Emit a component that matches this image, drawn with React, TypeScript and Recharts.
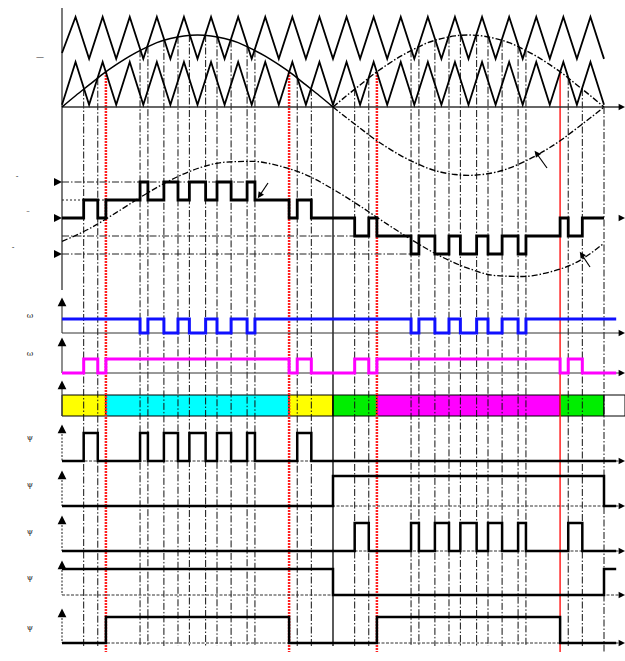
import {
  ComposedChart,
  Line,
  XAxis,
  YAxis,
  ReferenceLine,
  ReferenceArea,
  ReferenceDot,
} from "recharts";

// Canvas and horizontal scale: t is measured in carrier periods (0..20).
const W = 625;
const H = 661;
const ORIGIN_PX = 62;
const PX_PER_T = 27.1;
const T_MIN = -ORIGIN_PX / PX_PER_T;
const T_MAX = (W - ORIGIN_PX) / PX_PER_T;
const tAt = (px: number) => (px - ORIGIN_PX) / PX_PER_T;

// ---- data ----
const carrierT = [
  0, 0.5, 1, 1.5, 2, 2.5, 3, 3.5, 4, 4.5, 5, 5.5, 6, 6.5, 7, 7.5, 8, 8.5, 9, 9.5, 10,
  10.5, 11, 11.5, 12, 12.5, 13, 13.5, 14, 14.5, 15, 15.5, 16, 16.5, 17, 17.5, 18, 18.5, 19, 19.5, 20,
];
const carrierLower = [
  0.05, 1, 0.05, 1, 0.05, 1, 0.05, 1, 0.05, 1, 0.05, 1, 0.05, 1, 0.05, 1, 0.05, 1, 0.05, 1, 0.05,
  1, 0.05, 1, 0.05, 1, 0.05, 1, 0.05, 1, 0.05, 1, 0.05, 1, 0.05, 1, 0.05, 1, 0.05, 1, 0.05,
];
const carrierUpper = [
  1.2, 2, 1.07, 2, 1.07, 2, 1.07, 2, 1.07, 2, 1.07, 2, 1.07, 2, 1.07, 2, 1.07, 2, 1.07, 2, 1.07,
  2, 1.07, 2, 1.07, 2, 1.07, 2, 1.07, 2, 1.07, 2, 1.07, 2, 1.07, 2, 1.07, 2, 1.07, 2, 1.07,
];

// reference sine, sampled every half period
const sineT1 = [0, 0.5, 1, 1.5, 2, 2.5, 3, 3.5, 4, 4.5, 5, 5.5, 6, 6.5, 7, 7.5, 8, 8.5, 9, 9.5, 10];
const sineT2 = [10, 10.5, 11, 11.5, 12, 12.5, 13, 13.5, 14, 14.5, 15, 15.5, 16, 16.5, 17, 17.5, 18, 18.5, 19, 19.5, 20];
const sineHump = [0, 0.25, 0.49, 0.73, 0.94, 1.13, 1.29, 1.43, 1.52, 1.58, 1.6, 1.58, 1.52, 1.43, 1.29, 1.13, 0.94, 0.73, 0.49, 0.25, 0];
const sineNeg = [0, -0.24, -0.47, -0.7, -0.9, -1.08, -1.23, -1.36, -1.45, -1.5, -1.52, -1.5, -1.45, -1.36, -1.23, -1.08, -0.9, -0.7, -0.47, -0.24, 0];

// lagging sine in the output-voltage panel (levels)
const voltSineT = [0, 1, 2, 3, 4, 5, 6, 7, 8, 9, 10, 11, 12, 13, 14, 15, 16, 17, 18, 19, 20];
const voltSine = [-1.3, -0.6, 0.3, 1.25, 2.1, 2.75, 3.1, 3.15, 2.9, 2.4, 1.6, 0.66, -0.34, -1.3, -2.15, -2.8, -3.2, -3.25, -3.0, -2.45, -1.4];

// switching instants
const edges = [
  0, 0.8, 1.32, 1.62, 2.88, 3.17, 3.76, 4.28, 4.7, 5.3, 5.72, 6.24, 6.83, 7.12, 8.38, 8.68, 9.2,
  10, 10.8, 11.32, 11.62, 12.88, 13.17, 13.76, 14.28, 14.7, 15.3, 15.72, 16.24, 16.83, 17.12, 18.38, 18.68, 19.2,
  20, 20.45,
];
const vout = [0, 1, 0, 1, 2, 1, 2, 1, 2, 1, 2, 1, 2, 1, 0, 1, 0, 0, -1, 0, -1, -2, -1, -2, -1, -2, -1, -2, -1, -2, -1, 0, -1, 0, 0];
const blueSig = [1, 1, 1, 1, 0, 1, 0, 1, 0, 1, 0, 1, 0, 1, 1, 1, 1, 1, 1, 1, 1, 0, 1, 0, 1, 0, 1, 0, 1, 0, 1, 1, 1, 1, 1, 1];
const magentaSig = [0, 1, 0, 1, 1, 1, 1, 1, 1, 1, 1, 1, 1, 1, 0, 1, 0, 0, 1, 0, 1, 1, 1, 1, 1, 1, 1, 1, 1, 1, 1, 0, 1, 0, 0, 0];
const gate1 = [0, 1, 0, 0, 1, 0, 1, 0, 1, 0, 1, 0, 1, 0, 0, 1, 0, 0, 0, 0, 0, 0, 0, 0, 0, 0, 0, 0, 0, 0, 0, 0, 0, 0, 0, 0];
const gate2 = [0, 0, 0, 0, 0, 0, 0, 0, 0, 0, 0, 0, 0, 0, 0, 0, 0, 1, 1, 1, 1, 1, 1, 1, 1, 1, 1, 1, 1, 1, 1, 1, 1, 1, 0, 0];
const gate3 = [0, 0, 0, 0, 0, 0, 0, 0, 0, 0, 0, 0, 0, 0, 0, 0, 0, 0, 1, 0, 0, 1, 0, 1, 0, 1, 0, 1, 0, 1, 0, 0, 1, 0, 0, 0];
const gate4 = [1, 1, 1, 1, 1, 1, 1, 1, 1, 1, 1, 1, 1, 1, 1, 1, 1, 0, 0, 0, 0, 0, 0, 0, 0, 0, 0, 0, 0, 0, 0, 0, 0, 0, 1, 1];
const gate5 = [0, 0, 0, 1, 1, 1, 1, 1, 1, 1, 1, 1, 1, 1, 0, 0, 0, 0, 0, 0, 1, 1, 1, 1, 1, 1, 1, 1, 1, 1, 1, 0, 0, 0, 0, 0];

// where each switching guide starts (carrier units)
const guideT = [
  0.8, 1.32, 1.62, 2.88, 3.17, 3.76, 4.28, 4.7, 5.3, 5.72, 6.24, 6.83, 7.12, 8.38, 8.68, 9.2,
  10.8, 11.32, 11.62, 12.88, 13.17, 13.76, 14.28, 14.7, 15.3, 15.72, 16.24, 16.83, 17.12, 18.38, 18.68, 19.2,
];
const guideTop = [
  0.4, 0.64, 0.78, 1.26, 1.34, 1.48, 1.56, 1.6, 1.6, 1.56, 1.48, 1.34, 1.26, 0.78, 0.64, 0.4,
  0.4, 0.64, 0.78, 1.26, 1.34, 1.48, 1.56, 1.6, 1.6, 1.56, 1.48, 1.34, 1.26, 0.78, 0.64, 0.4,
];
const redT = [1.62, 8.38, 11.62, 18.38];

// sector bar
const sectorEdges = [0, 1.62, 8.38, 10, 11.62, 18.38, 20, T_MAX];
const sectorKind = ["a", "b", "a", "c", "d", "c", "e"];
const SECTOR_FILL: Record<string, string> = {
  a: "#ffff00",
  b: "#00ffff",
  c: "#00ee00",
  d: "#ff00ff",
  e: "#ffffff",
};

// ---- layout (px) ----
const P1 = { base: 107, unit: 45 };
const P2 = { base: 218, unit: 18 };
const LANES = {
  blue: { base: 333, amp: 14, top: 300 },
  magenta: { base: 373, amp: 14, top: 340 },
  bar: { base: 416, amp: 21, top: 383 },
  g1: { base: 461, amp: 28, top: 427 },
  g2: { base: 506, amp: 30, top: 473 },
  g3: { base: 551, amp: 28, top: 518 },
  g4: { base: 595, amp: 26, top: 563 },
  g5: { base: 643, amp: 26, top: 611 },
};
const GUIDE_BOTTOM = 646;
const DASHDOT = "7 2 1.5 2";

const y1 = (v: number) => P1.base - v * P1.unit;
const y2 = (v: number) => P2.base - v * P2.unit;
const pts = (ts: number[], vs: number[], f: (v: number) => number) =>
  vs.map((v, i) => ({ t: ts[i], y: f(v) }));
const lanePts = (vs: number[], lane: { base: number; amp: number }) =>
  pts(edges, vs, (v) => lane.base - v * lane.amp);

type DotProps = { cx?: number; cy?: number };
const head = (angle: number, size = 4.5) => (p: DotProps) => {
  const cx = p.cx ?? 0;
  const cy = p.cy ?? 0;
  return (
    <polygon
      points={`${cx},${cy - size} ${cx - size * 0.8},${cy + size * 0.6} ${cx + size * 0.8},${cy + size * 0.6}`}
      fill="#000"
      transform={`rotate(${angle} ${cx} ${cy})`}
    />
  );
};
const glyph = (s: string) => (p: DotProps) => (
  <text
    x={p.cx ?? 0}
    y={p.cy ?? 0}
    textAnchor="middle"
    dominantBaseline="central"
    fontSize={8}
    fontFamily="DejaVu Serif"
    fill="#222"
  >
    {s}
  </text>
);

const ARROWS = [
  { from: [547, 168], to: [537, 154], angle: -38 },
  { from: [268, 183], to: [260, 195], angle: -146 },
  { from: [590, 267], to: [582, 255], angle: -34 },
];
const BRACKETS = [
  [86, 96],
  [283, 292],
  [322, 330],
  [370, 378],
  [552, 560],
];
const LEFT_LABELS = [
  { x: 40, y: 56, s: "—" },
  { x: 17, y: 176, s: "-" },
  { x: 28, y: 212, s: "ᵕ" },
  { x: 13, y: 247, s: "-" },
  { x: 30, y: 315, s: "ω" },
  { x: 30, y: 353, s: "ω" },
  { x: 30, y: 437, s: "ψ" },
  { x: 30, y: 484, s: "ψ" },
  { x: 30, y: 531, s: "ψ" },
  { x: 30, y: 577, s: "ψ" },
  { x: 30, y: 627, s: "ψ" },
];

export default function App() {
  const lines = [
    { key: "blue", data: lanePts(blueSig, LANES.blue), color: "#1010ff", w: 3 },
    { key: "mag", data: lanePts(magentaSig, LANES.magenta), color: "#ff00ff", w: 3 },
    { key: "g1", data: lanePts(gate1, LANES.g1), color: "#000", w: 2.5 },
    { key: "g2", data: lanePts(gate2, LANES.g2), color: "#000", w: 2.5 },
    { key: "g3", data: lanePts(gate3, LANES.g3), color: "#000", w: 2.5 },
    { key: "g4", data: lanePts(gate4, LANES.g4), color: "#000", w: 2.5 },
    { key: "g5", data: lanePts(gate5, LANES.g5), color: "#000", w: 2.5 },
  ];
  const baselines = [LANES.blue, LANES.magenta, LANES.g1, LANES.g2, LANES.g3, LANES.g4, LANES.g5];
  const rightTicks = [P1.base, P2.base, ...baselines.map((l) => l.base)];

  return (
    <div style={{ position: "absolute", left: 0, top: 0, background: "#fff" }}>
      <ComposedChart width={W} height={H} margin={{ top: 0, right: 0, bottom: 0, left: 0 }}>
        <XAxis type="number" dataKey="t" domain={[T_MIN, T_MAX]} hide allowDataOverflow />
        <YAxis type="number" domain={[0, H]} reversed hide allowDataOverflow />

        {/* switching guides */}
        {guideT.map((t, i) =>
          redT.includes(t) ? null : (
            <ReferenceLine
              key={`g${i}`}
              segment={[{ x: t, y: y1(guideTop[i]) }, { x: t, y: GUIDE_BOTTOM }]}
              stroke="#111"
              strokeWidth={1}
              strokeDasharray={DASHDOT}
            />
          )
        )}
        <ReferenceLine segment={[{ x: 10, y: P1.base }, { x: 10, y: GUIDE_BOTTOM }]} stroke="#000" strokeWidth={1.3} />
        <ReferenceLine segment={[{ x: 20, y: P1.base }, { x: 20, y: 652 }]} stroke="#111" strokeDasharray={DASHDOT} />
        {redT.map((t, i) => (
          <ReferenceLine
            key={`r${i}`}
            segment={[{ x: t, y: y1(0.78) }, { x: t, y: 652 }]}
            stroke="#ff2020"
            strokeWidth={i === 3 ? 1.5 : 2.5}
            strokeDasharray={i === 3 ? undefined : "2 1"}
          />
        ))}

        {/* sector bar */}
        {sectorKind.map((k, i) => (
          <ReferenceArea
            key={`s${i}`}
            x1={sectorEdges[i]}
            x2={sectorEdges[i + 1]}
            y1={LANES.bar.base - LANES.bar.amp}
            y2={LANES.bar.base}
            fill={SECTOR_FILL[k]}
            fillOpacity={1}
            stroke="#000"
            strokeWidth={1}
          />
        ))}

        {/* axes */}
        <ReferenceLine segment={[{ x: 0, y: 8 }, { x: 0, y: 290 }]} stroke="#333" strokeWidth={1.3} />
        <ReferenceLine segment={[{ x: 0, y: P1.base }, { x: tAt(622), y: P1.base }]} stroke="#333" strokeWidth={1.5} />
        {Object.values(LANES).map((l, i) => (
          <ReferenceLine
            key={`ax${i}`}
            segment={[{ x: 0, y: l.top }, { x: 0, y: l.base }]}
            stroke="#444"
            strokeWidth={1.2}
            strokeDasharray={i < 3 ? undefined : "2 1.5"}
          />
        ))}
        {baselines.map((l, i) => (
          <ReferenceLine
            key={`bl${i}`}
            segment={[{ x: 0, y: l.base }, { x: tAt(620), y: l.base }]}
            stroke="#333"
            strokeWidth={1}
            strokeDasharray={i < 2 ? undefined : "3 1.5"}
          />
        ))}

        {/* output voltage reference levels */}
        <ReferenceLine segment={[{ x: 0, y: y2(2) }, { x: 7.12, y: y2(2) }]} stroke="#222" strokeDasharray={DASHDOT} />
        <ReferenceLine segment={[{ x: 0, y: y2(1) }, { x: 2.88, y: y2(1) }]} stroke="#222" strokeDasharray="2 2" />
        <ReferenceLine segment={[{ x: 0, y: y2(-1) }, { x: 10.8, y: y2(-1) }]} stroke="#222" strokeDasharray={DASHDOT} />
        <ReferenceLine segment={[{ x: 0, y: y2(-2) }, { x: 12.88, y: y2(-2) }]} stroke="#222" strokeDasharray={DASHDOT} />

        {/* carriers and modulating waves */}
        <Line data={pts(carrierT, carrierUpper, y1)} dataKey="y" type="linear" stroke="#000" strokeWidth={1.8} dot={false} activeDot={false} isAnimationActive={false} />
        <Line data={pts(carrierT, carrierLower, y1)} dataKey="y" type="linear" stroke="#000" strokeWidth={1.8} dot={false} activeDot={false} isAnimationActive={false} />
        <Line data={pts(sineT1, sineHump, y1)} dataKey="y" type="monotone" stroke="#000" strokeWidth={1.5} dot={false} activeDot={false} isAnimationActive={false} />
        <Line data={pts(sineT2, sineHump, y1)} dataKey="y" type="monotone" stroke="#000" strokeWidth={1.4} strokeDasharray="6 2 1.5 2" dot={false} activeDot={false} isAnimationActive={false} />
        <Line data={pts(sineT2, sineNeg, y1)} dataKey="y" type="monotone" stroke="#000" strokeWidth={1.4} strokeDasharray="6 2 1.5 2" dot={false} activeDot={false} isAnimationActive={false} />
        <Line data={pts(voltSineT, voltSine, y2)} dataKey="y" type="monotone" stroke="#000" strokeWidth={1.3} strokeDasharray="6 2 1.5 2" dot={false} activeDot={false} isAnimationActive={false} />

        {/* output voltage */}
        <Line data={pts(edges, vout, y2)} dataKey="y" type="stepAfter" stroke="#000" strokeWidth={2.8} dot={false} activeDot={false} isAnimationActive={false} />

        {lines.map((l) => (
          <Line key={l.key} data={l.data} dataKey="y" type="stepAfter" stroke={l.color} strokeWidth={l.w} dot={false} activeDot={false} isAnimationActive={false} />
        ))}

        {/* arrow heads */}
        {Object.values(LANES).map((l, i) => (
          <ReferenceDot key={`ua${i}`} x={0} y={l.top + 3} r={5} shape={head(0, 5.5)} />
        ))}
        {[2, 0, -2].map((v) => (
          <ReferenceDot key={`la${v}`} x={tAt(57)} y={y2(v)} r={4} shape={head(90, 5)} />
        ))}
        {rightTicks.map((y, i) => (
          <ReferenceDot key={`ra${i}`} x={tAt(621)} y={y} r={4} shape={head(90, 4)} />
        ))}
        {ARROWS.map((a, i) => (
          <ReferenceLine
            key={`an${i}`}
            segment={[{ x: tAt(a.from[0]), y: a.from[1] }, { x: tAt(a.to[0]), y: a.to[1] }]}
            stroke="#000"
            strokeWidth={1.2}
          />
        ))}
        {ARROWS.map((a, i) => (
          <ReferenceDot key={`ah${i}`} x={tAt(a.to[0])} y={a.to[1]} r={4} shape={head(a.angle, 4)} />
        ))}

        {/* bottom markers */}
        {BRACKETS.map((b, i) => (
          <ReferenceArea key={`b${i}`} x1={tAt(b[0])} x2={tAt(b[1])} y1={651} y2={664} fill="none" stroke="#777" strokeWidth={1} />
        ))}

        {/* left labels */}
        {LEFT_LABELS.map((l, i) => (
          <ReferenceDot key={`lab${i}`} x={tAt(l.x)} y={l.y} r={4} shape={glyph(l.s)} />
        ))}
      </ComposedChart>
    </div>
  );
}
